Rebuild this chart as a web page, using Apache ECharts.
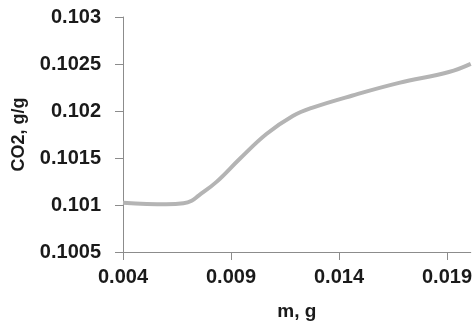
<!DOCTYPE html>
<html lang="en">

<head>
    <meta charset="UTF-8">
    <title>CO2 vs m</title>
    <script src="https://cdn.jsdelivr.net/npm/echarts@6/dist/echarts.min.js"></script>
    <style>
        html, body { margin: 0; padding: 0; background: #fff; }
        #box { width: 475px; height: 326px; }
    </style>
</head>

<body>
    <div id="box"></div>
</body>
<script>
    // m, g
    var mValues = [0.004, 0.0060, 0.0068, 0.00718, 0.0075, 0.00833, 0.00941, 0.01064, 0.01186, 0.01278, 0.01463, 0.01678, 0.01909, 0.0201];
    // CO2, g/g
    var co2Values = [0.101025, 0.101007, 0.101018, 0.101046, 0.101100, 0.101246, 0.101492, 0.101755, 0.101947, 0.102036, 0.102165, 0.102299, 0.102415, 0.102502];

    var xTicks = [0.004, 0.009, 0.014, 0.019];
    var yTicks = [0.1005, 0.101, 0.1015, 0.102, 0.1025, 0.103];

    var points = mValues.map(function (m, i) { return [m, co2Values[i]]; });

    var labelFont = {
        color: '#1a1a1a',
        fontFamily: 'Liberation Sans',
        fontWeight: 'bold',
        fontSize: 20
    };

    var my = echarts.init(document.getElementById('box'));
    var option = {
        animation: false,
        grid: { left: 123, right: 3, top: 17, bottom: 72 },
        xAxis: {
            type: 'value',
            min: 0.004,
            max: 0.0201,
            name: 'm, g',
            nameLocation: 'middle',
            nameGap: 50,
            nameTextStyle: { color: '#1a1a1a', fontFamily: 'Liberation Sans', fontWeight: 'bold', fontSize: 19 },
            axisLine: { lineStyle: { color: '#8c8c8c', width: 1 } },
            axisTick: { show: true, length: 8, lineStyle: { color: '#8c8c8c' }, customValues: xTicks },
            axisLabel: Object.assign({ margin: 15, customValues: xTicks }, labelFont),
            splitLine: { show: false }
        },
        yAxis: {
            type: 'value',
            min: 0.1005,
            max: 0.103,
            interval: 0.0005,
            name: 'CO2, g/g',
            nameLocation: 'middle',
            nameGap: 95,
            nameTextStyle: { color: '#1a1a1a', fontFamily: 'Liberation Sans', fontWeight: 'bold', fontSize: 18 },
            axisLine: { show: true, lineStyle: { color: '#8c8c8c', width: 1 } },
            axisTick: { show: true, length: 8, lineStyle: { color: '#8c8c8c' }, customValues: yTicks },
            axisLabel: Object.assign({ margin: 22, customValues: yTicks }, labelFont),
            splitLine: { show: false }
        },
        series: [
            {
                type: 'line',
                data: points,
                smooth: 0.4,
                symbol: 'none',
                lineStyle: { color: '#b4b4b4', width: 4 }
            }
        ]
    };
    my.setOption(option);
</script>

</html>
